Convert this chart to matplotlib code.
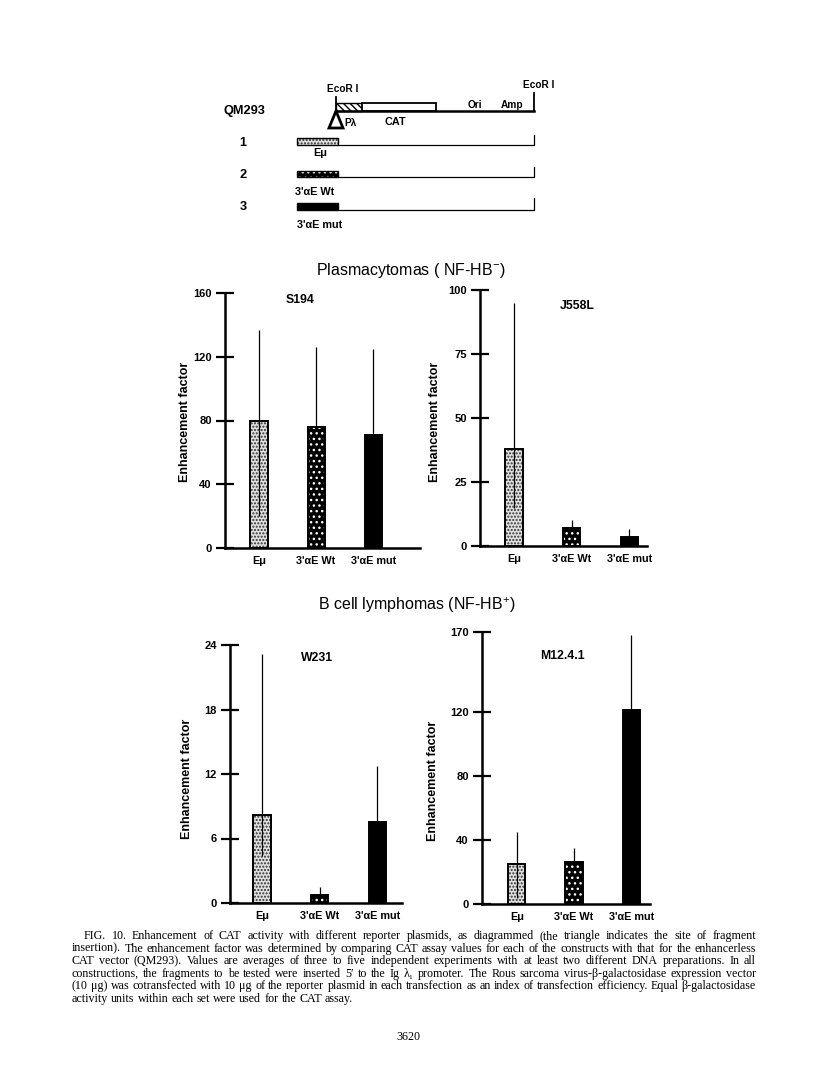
import matplotlib
matplotlib.use('Agg')
import matplotlib.pyplot as plt
from matplotlib.patches import Rectangle, Polygon

W, H, DPI = 816, 1068, 100

# ---------------- data ----------------
categories = ['Eμ', "3'αE Wt", "3'αE mut"]

s194_values = [80, 76, 71]
s194_err_up = [57, 50, 54]
s194_err_lo = [60, 0, 0]
s194_ticks = [0, 40, 80, 120, 160]

j558l_values = [38, 7, 3.5]
j558l_err_up = [57, 3, 3]
j558l_err_lo = [23, 0, 0]
j558l_ticks = [0, 25, 50, 75, 100]

w231_values = [8.2, 0.75, 7.5]
w231_err_up = [15, 0.75, 5.2]
w231_err_lo = [3.8, 0, 0]
w231_ticks = [0, 6, 12, 18, 24]

m12_values = [25, 26, 121]
m12_err_up = [20, 9, 47]
m12_err_lo = [21, 0, 0]
m12_ticks = [0, 40, 80, 120, 170]

panel_names = ['S194', 'J558L', 'W231', 'M12.4.1']
group_titles = ['Plasmacytomas ( NF-HB$^{-}$)', 'B cell lymphomas (NF-HB$^{+}$)']
ylabel_text = 'Enhancement factor'

caption_lines = [
    "FIG. 10. Enhancement of CAT activity with different reporter plasmids, as diagrammed (the triangle indicates the site of fragment",
    "insertion). The enhancement factor was determined by comparing CAT assay values for each of the constructs with that for the enhancerless",
    "CAT vector (QM293). Values are averages of three to five independent experiments with at least two different DNA preparations. In all",
    "constructions, the fragments to be tested were inserted 5\u2032 to the Ig \u03bb\u2081 promoter. The Rous sarcoma virus-\u03b2-galactosidase expression vector",
    "(10 \u03bcg) was cotransfected with 10 \u03bcg of the reporter plasmid in each transfection as an index of transfection efficiency. Equal \u03b2-galactosidase",
    "activity units within each set were used for the CAT assay.",
]
page_number = "3620"

# ---------------- styling ----------------
SANS = ['Liberation Sans', 'DejaVu Sans']
SERIF = ['Liberation Serif', 'DejaVu Serif']
plt.rcParams['font.family'] = SANS
plt.rcParams['mathtext.fontset'] = 'custom'
plt.rcParams['mathtext.rm'] = 'Liberation Sans'
plt.rcParams['mathtext.it'] = 'Liberation Sans'
plt.rcParams['hatch.linewidth'] = 1.0

fig = plt.figure(figsize=(W / DPI, H / DPI), dpi=DPI)
fig.patch.set_facecolor('white')

# overlay axes in pixel coordinates for diagram & text
dax = fig.add_axes([0, 0, 1, 1], zorder=0)
dax.set_xlim(0, W)
dax.set_ylim(H, 0)
dax.axis('off')
dax.patch.set_alpha(0)


def fig_rect(x0, x1, ybot, ytop):
    return [x0 / W, 1 - ybot / H, (x1 - x0) / W, (ybot - ytop) / H]


DOT_FACE = '#e0e0e0'
DOT_HATCH = '#303030'


def draw_bar(ax, x, v, w, style):
    if style == 'dots':
        ax.bar(x, v, w, color=DOT_FACE, edgecolor=DOT_HATCH, hatch='.....', linewidth=0, zorder=2)
        ax.bar(x, v, w, color='none', edgecolor='black', linewidth=1.4, zorder=2.5)
    elif style == 'check':
        ax.bar(x, v, w, color='black', edgecolor='white', hatch='...', linewidth=0, zorder=2)
        ax.bar(x, v, w, color='none', edgecolor='black', linewidth=1.4, zorder=2.5)
    else:
        ax.bar(x, v, w, color='black', edgecolor='black', linewidth=1.4, zorder=2)


styles = ['dots', 'check', 'solid']

panels = [
    dict(vals=s194_values, up=s194_err_up, lo=s194_err_lo, ticks=s194_ticks, name=panel_names[0],
         px=(225, 420), py=(548, 293), xl=(-0.596, 2.82), title_xy=(300, 300), ylab_xy=(185, 422)),
    dict(vals=j558l_values, up=j558l_err_up, lo=j558l_err_lo, ticks=j558l_ticks, name=panel_names[1],
         px=(480, 647), py=(546, 290), xl=(-0.59, 2.31), title_xy=(577, 306), ylab_xy=(435, 422)),
    dict(vals=w231_values, up=w231_err_up, lo=w231_err_lo, ticks=w231_ticks, name=panel_names[2],
         px=(230, 402), py=(903, 645), xl=(-0.557, 2.43), title_xy=(317, 658), ylab_xy=(187, 779)),
    dict(vals=m12_values, up=m12_err_up, lo=m12_err_lo, ticks=m12_ticks, name=panel_names[3],
         px=(482, 650), py=(904, 632), xl=(-0.61, 2.33), title_xy=(562, 656), ylab_xy=(433, 781)),
]

for p in panels:
    ax = fig.add_axes(fig_rect(p['px'][0], p['px'][1], p['py'][0], p['py'][1]), zorder=2)
    ax.patch.set_alpha(0)
    xs = list(range(len(categories)))
    for x, v, s in zip(xs, p['vals'], styles):
        draw_bar(ax, x, v, 0.3, s)
    ax.errorbar(xs, p['vals'], yerr=[p['lo'], p['up']], fmt='none', ecolor='black',
                elinewidth=0.9, capsize=0, zorder=3)
    ax.set_xlim(*p['xl'])
    ax.set_ylim(p['ticks'][0], p['ticks'][-1])
    ax.set_yticks(p['ticks'])
    ax.set_yticklabels([str(t) for t in p['ticks']], fontweight='bold', fontsize=8)
    ax.set_xticks(xs)
    ax.set_xticklabels(categories, fontweight='bold', fontsize=7.8)
    ax.tick_params(axis='x', length=0, pad=6)
    ax.tick_params(axis='y', direction='inout', length=13, width=1.6, pad=3)
    for s in ['top', 'right']:
        ax.spines[s].set_visible(False)
    for s in ['left', 'bottom']:
        ax.spines[s].set_linewidth(1.8)
    ax.spines['left'].set_bounds(p['ticks'][0], p['ticks'][-1])
    dax.text(p['title_xy'][0], p['title_xy'][1], p['name'], ha='center', va='center',
             fontsize=8.8, fontweight='bold')
    dax.text(p['ylab_xy'][0], p['ylab_xy'][1], ylabel_text, ha='center', va='center',
             rotation=90, fontsize=9, fontweight='bold')

# group titles
dax.text(411, 270, group_titles[0], ha='center', va='center', fontsize=11.5)
dax.text(417, 605, group_titles[1], ha='center', va='center', fontsize=11.5)

# ---------------- diagram ----------------
lw_main = 1.8
dax.text(223, 111, 'QM293', ha='left', va='center', fontsize=9.2, fontweight='bold')
dax.plot([336, 534], [111, 111], color='black', lw=lw_main)
dax.plot([336, 336], [97, 111], color='black', lw=1.3)
dax.plot([534, 534], [93, 111], color='black', lw=1.3)
dax.text(343, 94, 'EcoR I', ha='center', va='bottom', fontsize=7.3, fontweight='bold')
dax.text(539, 90, 'EcoR I', ha='center', va='bottom', fontsize=7.3, fontweight='bold')
dax.add_patch(Rectangle((336, 103), 26, 8, facecolor='white', edgecolor='black',
                        hatch='\\\\\\\\\\', lw=1.0))
dax.add_patch(Rectangle((362, 103), 74, 8, facecolor='white', edgecolor='black', lw=1.3))
dax.add_patch(Polygon([(336, 111), (329, 128), (343, 128)], closed=True, fill=False,
                      edgecolor='black', lw=2.0))
dax.text(344, 123, 'Pλ', ha='left', va='center', fontsize=7.3, fontweight='bold')
dax.text(395, 122, 'CAT', ha='center', va='center', fontsize=7.8, fontweight='bold')
dax.text(475, 105, 'Ori', ha='center', va='center', fontsize=7.3, fontweight='bold')
dax.text(512, 105, 'Amp', ha='center', va='center', fontsize=7.3, fontweight='bold')

rows = [
    ('1', 138, 145, 135, 'dots', 'Eμ', 320, 153),
    ('2', 171, 177, 167, 'check', "3'αE Wt", 315, 192),
    ('3', 203, 210, 198, 'solid', "3'αE mut", 320, 225),
]
for num, ytop, ybot, ytick, st, lab, lx, ly in rows:
    dax.text(243, (ytop + ybot) / 2 + 1, num, ha='center', va='center', fontsize=9.2, fontweight='bold')
    if st == 'dots':
        dax.add_patch(Rectangle((297, ytop), 41, ybot - ytop, facecolor=DOT_FACE,
                                edgecolor=DOT_HATCH, hatch='.....', lw=0))
        dax.add_patch(Rectangle((297, ytop), 41, ybot - ytop, fill=False, edgecolor='black', lw=1.0))
    elif st == 'check':
        dax.add_patch(Rectangle((297, ytop), 41, ybot - ytop, facecolor='black',
                                edgecolor='white', hatch='...', lw=0))
        dax.add_patch(Rectangle((297, ytop), 41, ybot - ytop, fill=False, edgecolor='black', lw=1.0))
    else:
        dax.add_patch(Rectangle((297, ytop), 41, ybot - ytop, facecolor='black', edgecolor='black', lw=1.0))
    dax.plot([338, 534, 534], [ybot, ybot, ytick], color='black', lw=0.9)
    dax.text(lx, ly, lab, ha='center', va='center', fontsize=7.8, fontweight='bold')

# ---------------- caption ----------------
renderer = fig.canvas.get_renderer()
cap_left, cap_right, cap_indent = 72, 756, 12
cap_y0, cap_dy = 939, 12.6

# choose a font size so the longest line fits with small natural spacing
probe = dax.text(0, 0, caption_lines[1], fontsize=10, family=SERIF)
nat10 = probe.get_window_extent(renderer).width
probe.remove()
cap_fs = min(9.6, 10 * (cap_right - cap_left) / nat10 * 0.985)

sp = dax.text(0, 0, 'a a', fontsize=cap_fs, family=SERIF)
sp2 = dax.text(0, 0, 'aa', fontsize=cap_fs, family=SERIF)
space_w = sp.get_window_extent(renderer).width - sp2.get_window_extent(renderer).width
sp.remove(); sp2.remove()
for i, line in enumerate(caption_lines):
    words = line.split(' ')
    y = cap_y0 + i * cap_dy
    x0 = cap_left + (cap_indent if i == 0 else 0)
    texts = [dax.text(0, y, w, fontsize=cap_fs, family=SERIF, ha='left', va='baseline') for w in words]
    widths = [t.get_window_extent(renderer).width for t in texts]
    if i < len(caption_lines) - 1 and len(words) > 1:
        gap = (cap_right - x0 - sum(widths)) / (len(words) - 1)
    else:
        gap = space_w
    x = x0
    for t, wd in zip(texts, widths):
        t.set_x(x)
        x += wd + gap

dax.text(408, 1040, page_number, ha='center', va='baseline', fontsize=cap_fs, family=SERIF)

fig.savefig('out.png', dpi=DPI, facecolor='white')
